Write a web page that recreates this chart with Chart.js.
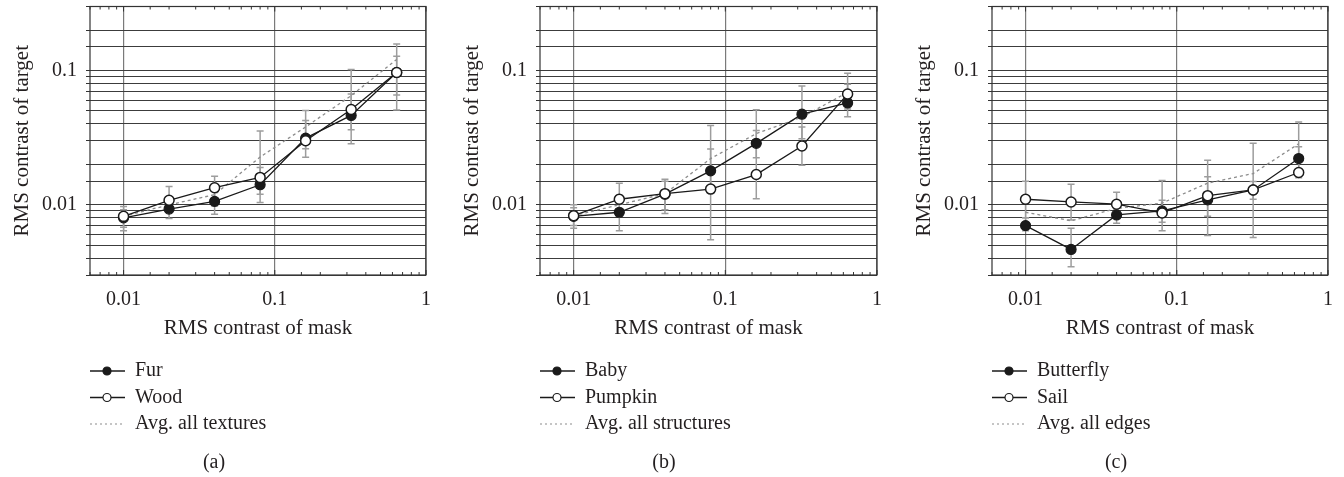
<!DOCTYPE html>
<html>
<head>
<meta charset="utf-8">
<script src="https://cdn.jsdelivr.net/npm/chart.js@4.4.1/dist/chart.umd.min.js"></script>
<style>
  html, body { margin: 0; padding: 0; background: #fff; }
  #wrap { position: relative; width: 1344px; height: 477px; }
  .panel { position: absolute; top: 0; width: 448px; height: 477px; }
</style>
</head>
<body>
<div id="wrap">
  <div class="panel" style="left:0px"><canvas id="chartA" width="448" height="477"></canvas></div>
  <div class="panel" style="left:448px"><canvas id="chartB" width="448" height="477"></canvas></div>
  <div class="panel" style="left:896px"><canvas id="chartC" width="448" height="477"></canvas></div>
</div>
<script>
// x: RMS contrast of mask, shared by all panels
const maskContrast = [0.01, 0.02, 0.04, 0.08, 0.16, 0.32, 0.64]
const xTickLabels = ['0.01', '0.1', '1']
const yTickLabels = ['0.01', '0.1']

// (a) textures
const furValues = [0.0080, 0.0093, 0.0106, 0.0141, 0.0314, 0.0463, 0.0967]
const furLow = [0.0068, 0.0079, 0.0085, 0.0104, 0.0226, 0.0362, 0.0657]
const furHigh = [0.0092, 0.0112, 0.0128, 0.0190, 0.0424, 0.0668, 0.128]
const woodValues = [0.0082, 0.0108, 0.0134, 0.0160, 0.0300, 0.0513, 0.0967]
const woodLow = [0.0064, 0.0088, 0.0098, 0.0120, 0.0262, 0.0285, 0.0508]
const woodHigh = [0.0097, 0.0137, 0.0163, 0.0355, 0.0505, 0.102, 0.158]
const texturesAvg = [0.0082, 0.0100, 0.0119, 0.0227, 0.0380, 0.0650, 0.121]

// (b) structures
const babyValues = [0.0082, 0.0088, 0.0120, 0.0179, 0.0287, 0.0473, 0.0574]
const babyLow = [0.0067, 0.0064, 0.0086, 0.0125, 0.0224, 0.0310, 0.0452]
const babyHigh = [0.0095, 0.0118, 0.0150, 0.0260, 0.0358, 0.0767, 0.0790]
const pumpkinValues = [0.0083, 0.0110, 0.0121, 0.0131, 0.0168, 0.0274, 0.0668]
const pumpkinLow = [0.0070, 0.0082, 0.0092, 0.0055, 0.0111, 0.0197, 0.0518]
const pumpkinHigh = [0.0100, 0.0145, 0.0155, 0.0390, 0.0510, 0.0380, 0.0956]
const structuresAvg = [0.0083, 0.0100, 0.0121, 0.0221, 0.0339, 0.0450, 0.0688]

// (c) edges
const butterflyValues = [0.0070, 0.00465, 0.0084, 0.0090, 0.0109, 0.0129, 0.0221]
const butterflyLow = [0.0064, 0.00346, 0.0073, 0.0074, 0.0082, 0.0110, 0.0165]
const butterflyHigh = [0.0080, 0.0067, 0.0098, 0.0108, 0.0162, 0.0149, 0.0271]
const sailValues = [0.0110, 0.0105, 0.0101, 0.0087, 0.0117, 0.0129, 0.0174]
const sailLow = [0.0080, 0.0077, 0.0085, 0.0064, 0.0059, 0.0057, 0.0159]
const sailHigh = [0.0150, 0.0142, 0.0124, 0.0152, 0.0215, 0.0287, 0.0413]
const edgesAvg = [0.0088, 0.0076, 0.0094, 0.0103, 0.0145, 0.0171, 0.0285]

const serif = "'Liberation Serif', 'DejaVu Serif', serif"
const textColor = '#231f20'
const ink = '#1a1a1a'

function isDecade(v) {
    const l = Math.log10(v)
    return Math.abs(l - Math.round(l)) < 1e-6
}
function labelFor(v, labels) {
    const hit = labels.find(l => Math.abs(Number(l) - v) < v * 1e-6)
    return hit === undefined ? '' : hit
}
function points(ys) {
    return maskContrast.map((x, i) => ({ x: x, y: ys[i] }))
}

// gray error bars, drawn under the lines
const errorBars = {
    id: 'errorBars',
    beforeDatasetsDraw(chart) {
        const ctx = chart.ctx
        const xs = chart.scales.x, ys = chart.scales.y
        ctx.save()
        ctx.strokeStyle = '#9d9d9d'
        ctx.lineWidth = 1.5
        chart.data.datasets.forEach(ds => {
            if (!ds.errLow) return
            ds.data.forEach((p, j) => {
                const x = xs.getPixelForValue(p.x)
                const lo = ys.getPixelForValue(ds.errLow[j])
                const hi = ys.getPixelForValue(ds.errHigh[j])
                ctx.beginPath()
                ctx.moveTo(x, lo); ctx.lineTo(x, hi)
                ctx.moveTo(x - 3.5, lo); ctx.lineTo(x + 3.5, lo)
                ctx.moveTo(x - 3.5, hi); ctx.lineTo(x + 3.5, hi)
                ctx.stroke()
            })
        })
        ctx.restore()
    }
}

// frame, minor x ticks inside, legend and caption
const decorations = {
    id: 'decorations',
    afterDatasetsDraw(chart) {
        const ctx = chart.ctx
        const a = chart.chartArea
        const xs = chart.scales.x
        ctx.save()
        ctx.strokeStyle = '#333'
        ctx.lineWidth = 1.2
        ctx.strokeRect(a.left, a.top, a.right - a.left, a.bottom - a.top)
        ctx.lineWidth = 1
        xs.ticks.forEach(t => {
            const x = xs.getPixelForValue(t.value)
            const len = isDecade(t.value) ? 5 : 3
            ctx.beginPath()
            ctx.moveTo(x, a.top); ctx.lineTo(x, a.top + len)
            ctx.moveTo(x, a.bottom); ctx.lineTo(x, a.bottom - len)
            ctx.stroke()
        })
        ctx.restore()
    },
    afterDraw(chart) {
        const ctx = chart.ctx
        const a = chart.chartArea
        const o = chart.options.plugins.decorations
        ctx.save()
        ctx.font = '20px ' + serif
        ctx.fillStyle = textColor
        ctx.textBaseline = 'middle'
        o.items.forEach((item, i) => {
            const y = a.bottom + 96 + i * 26.5
            const x0 = a.left
            ctx.beginPath()
            if (item.kind === 'dotted') {
                ctx.strokeStyle = '#8c8c8c'
                ctx.lineWidth = 1.2
                ctx.setLineDash([2, 3])
            } else {
                ctx.strokeStyle = ink
                ctx.lineWidth = 1.5
                ctx.setLineDash([])
            }
            ctx.moveTo(x0, y); ctx.lineTo(x0 + 35, y)
            ctx.stroke()
            ctx.setLineDash([])
            if (item.kind !== 'dotted') {
                ctx.beginPath()
                ctx.arc(x0 + 17, y, 4, 0, Math.PI * 2)
                ctx.fillStyle = item.kind === 'filled' ? ink : '#fff'
                ctx.fill()
                ctx.lineWidth = 1.2
                ctx.stroke()
            }
            ctx.fillStyle = textColor
            ctx.textAlign = 'left'
            ctx.fillText(item.label, x0 + 45, y)
        })
        ctx.textAlign = 'center'
        ctx.fillText(o.caption, a.left + 124, a.bottom + 188)
        ctx.restore()
    }
}

function build(id, padLeft, padRight, caption, series) {
    const [s1, s2, avg] = series
    const datasets = [
        {
            label: s1.label, data: points(s1.values), errLow: s1.low, errHigh: s1.high,
            borderColor: ink, borderWidth: 1.3, pointRadius: 5,
            pointBackgroundColor: ink, pointBorderColor: ink, pointBorderWidth: 1.2, order: 1
        },
        {
            label: s2.label, data: points(s2.values), errLow: s2.low, errHigh: s2.high,
            borderColor: ink, borderWidth: 1.3, pointRadius: 5,
            pointBackgroundColor: '#fff', pointBorderColor: ink, pointBorderWidth: 1.5, order: 0
        },
        {
            label: avg.label, data: points(avg.values),
            borderColor: '#8c8c8c', borderWidth: 1.3, borderDash: [3, 3], pointRadius: 0, order: 2
        }
    ]
    return new Chart(document.getElementById(id), {
        type: 'line',
        data: { datasets: datasets },
        plugins: [errorBars, decorations],
        options: {
            responsive: false,
            animation: false,
            layout: { padding: { left: padLeft, right: padRight, top: 4, bottom: 136 } },
            elements: { line: { tension: 0 } },
            scales: {
                x: {
                    type: 'logarithmic', min: 0.006, max: 1,
                    border: { display: false },
                    grid: {
                        drawTicks: false, lineWidth: 1.2,
                        color: c => (c.tick && isDecade(c.tick.value)) ? '#7a7a7a' : 'rgba(0,0,0,0)'
                    },
                    ticks: {
                        autoSkip: false, maxRotation: 0, padding: 13,
                        font: { family: serif, size: 20 }, color: textColor,
                        callback: v => labelFor(v, xTickLabels)
                    },
                    title: {
                        display: true, text: 'RMS contrast of mask', padding: 0,
                        font: { family: serif, size: 21 }, color: textColor
                    },
                    afterFit: s => {
                        s.height = 66
                        s.paddingLeft = 0
                        s.paddingRight = 0
                    }
                },
                y: {
                    type: 'logarithmic', min: 0.003, max: 0.3,
                    border: { display: false },
                    grid: { color: '#3c3c3c', lineWidth: 1, tickLength: 4, tickColor: '#333' },
                    ticks: {
                        autoSkip: false, padding: 9, crossAlign: 'near',
                        font: { family: serif, size: 20 }, color: textColor,
                        callback: v => labelFor(v, yTickLabels)
                    },
                    title: {
                        display: true, text: 'RMS contrast of target', padding: { top: 10, bottom: 0 },
                        font: { family: serif, size: 21 }, color: textColor
                    },
                    afterFit: s => {
                        s.width = 90
                        s.paddingTop = 0
                        s.paddingBottom = 0
                    }
                }
            },
            plugins: {
                legend: { display: false },
                tooltip: { enabled: false },
                decorations: {
                    caption: caption,
                    items: [
                        { label: s1.label, kind: 'filled' },
                        { label: s2.label, kind: 'open' },
                        { label: avg.label, kind: 'dotted' }
                    ]
                }
            }
        }
    })
}

build('chartA', 0, 22, '(a)', [
    { label: 'Fur', values: furValues, low: furLow, high: furHigh },
    { label: 'Wood', values: woodValues, low: woodLow, high: woodHigh },
    { label: 'Avg. all textures', values: texturesAvg }
])
build('chartB', 2, 19, '(b)', [
    { label: 'Baby', values: babyValues, low: babyLow, high: babyHigh },
    { label: 'Pumpkin', values: pumpkinValues, low: pumpkinLow, high: pumpkinHigh },
    { label: 'Avg. all structures', values: structuresAvg }
])
build('chartC', 6, 16, '(c)', [
    { label: 'Butterfly', values: butterflyValues, low: butterflyLow, high: butterflyHigh },
    { label: 'Sail', values: sailValues, low: sailLow, high: sailHigh },
    { label: 'Avg. all edges', values: edgesAvg }
])
</script>
</body>
</html>
